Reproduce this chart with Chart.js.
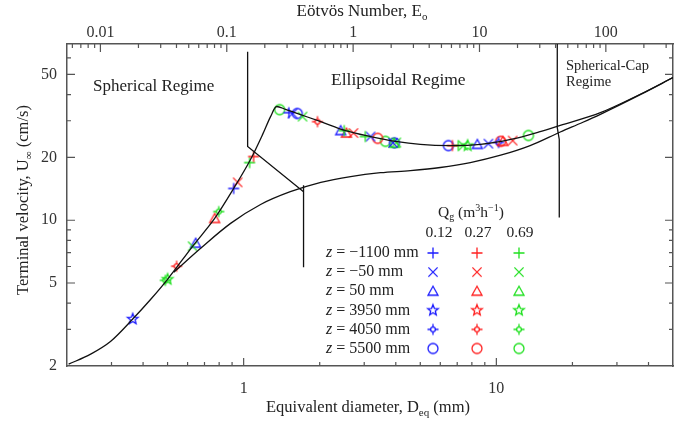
<!DOCTYPE html>
<html><head><meta charset="utf-8">
<script src="https://cdn.jsdelivr.net/npm/chart.js@4"></script>
<style>html,body{margin:0;padding:0;background:#fff}#wrap{width:694px;height:425px}</style>
</head><body><div id="wrap"><canvas id="c" width="694" height="425"></canvas></div>
<script>
const FONT = '"Liberation Serif", "Times New Roman", serif';

// ---- axes ----
const xTickLabels = [1, 10];
const topTickLabels = [0.01, 0.1, 1, 10, 100];
const yTickLabels = [2, 5, 10, 20, 50];
const xRange = [0.2, 50];
const yRange = [2, 70];
const eoPerMm2 = 0.136; // Eo = 0.136 * Deq^2 (Deq in mm)

// ---- legend categories ----
const zLabels = ['−1100 mm', '−50 mm', '50 mm', '3950 mm', '4050 mm', '5500 mm'];
const qLabels = ['0.12', '0.27', '0.69'];
const qColors = ['#1c1cff', '#ff2020', '#1fe01f'];
const zSymbols = ['plus', 'cross', 'triangle', 'star', 'sparkle', 'circle'];

// ---- measured points [Deq (mm), U (cm/s)] ----
const zM1100_q012 = [[0.913, 14.2], [1.51, 32.8]];
const zM1100_q027 = [[1.095, 20.2], [6.7, 22.8]];
const zM1100_q069 = [[1.056, 18.9], [2.5, 26.9], [3.03, 25.2], [7.07, 22.8]];
const zM50_q012 = [[1.56, 32.5], [3.18, 25.2], [3.9, 23.5], [9.3, 23.3]];
const zM50_q027 = [[0.947, 15.2], [2.72, 26.2], [11.6, 24.1]];
const zM50_q069 = [[0.628, 7.5], [1.71, 31.4], [4.02, 23.6], [7.4, 22.8]];
const zP50_q012 = [[0.646, 7.76], [2.42, 26.9], [8.41, 23.1]];
const zP50_q027 = [[0.768, 10.2], [2.55, 26.2], [10.6, 23.9]];
const zP50_q069 = [[3.95, 23.4]];
const zP3950_q012 = [[0.364, 3.36]];
const zP3950_q027 = [];
const zP3950_q069 = [[0.50, 5.21], [7.7, 22.8]];
const zP4050_q012 = [[10.2, 23.6]];
const zP4050_q027 = [[0.543, 6.02], [1.96, 29.7]];
const zP4050_q069 = [[0.797, 11.0], [0.49, 5.15]];
const zP5500_q012 = [[1.63, 32.5], [3.95, 23.5], [6.46, 22.8]];
const zP5500_q027 = [[3.39, 24.7], [10.4, 23.9]];
const zP5500_q069 = [[1.388, 33.9], [3.64, 23.9], [13.4, 25.5]];

const seriesData = [
  [zM1100_q012, zM1100_q027, zM1100_q069],
  [zM50_q012, zM50_q027, zM50_q069],
  [zP50_q012, zP50_q027, zP50_q069],
  [zP3950_q012, zP3950_q027, zP3950_q069],
  [zP4050_q012, zP4050_q027, zP4050_q069],
  [zP5500_q012, zP5500_q027, zP5500_q069]
];

// ---- correlation curves ----
const upperCurveD = [0.203, 0.248, 0.298, 0.364, 0.429, 0.50, 0.628, 0.768, 0.913, 1.066, 1.189, 1.278, 1.35, 1.466, 1.68, 2.02, 2.53, 3.18, 3.99, 5.0, 6.58, 8.65, 11.4, 14.9, 17.9, 25.8, 37.1, 50];
const upperCurveU = [2.04, 2.28, 2.63, 3.36, 4.18, 5.21, 7.5, 10.2, 14.2, 19.6, 25.8, 31.4, 35.1, 34.0, 32.1, 29.7, 26.9, 25.2, 23.9, 23.1, 22.8, 23.1, 24.4, 26.6, 28.5, 32.8, 40.2, 48.3];
const lowerCurveD = [0.529, 0.676, 0.888, 1.167, 1.53, 2.02, 2.65, 3.48, 4.57, 6.0, 7.89, 10.4, 13.6, 17.9, 22.0, 25.8, 37.1, 50];
const lowerCurveU = [5.63, 7.34, 9.66, 11.9, 13.7, 15.2, 16.2, 16.9, 17.3, 17.9, 18.9, 20.5, 22.8, 26.5, 29.5, 32.2, 40.0, 48.3];

// ---- regime boundaries ----
const leftBoundD = [1.037, 1.037, 1.726];
const leftBoundU = [64.3, 22.6, 13.7];
const leftVertD = [1.726, 1.726];
const leftVertU = [14.7, 5.95];
const rightBoundD = [17.42, 17.42, 17.74, 17.74];
const rightBoundU = [70, 27.8, 24.4, 10.3];

const eo = d => eoPerMm2 * d * d;
const zip = (a, b) => a.map((v, i) => ({x: v, y: b[i]}));

function makeSymbol(kind, color) {
  const s = 16, c = document.createElement('canvas');
  c.width = s; c.height = s;
  const g = c.getContext('2d');
  g.strokeStyle = color; g.lineWidth = 1.3; const m = s / 2;
  g.beginPath();
  if (kind === 'plus') {
    g.moveTo(m - 5.5, m); g.lineTo(m + 5.5, m); g.moveTo(m, m - 5.5); g.lineTo(m, m + 5.5);
  } else if (kind === 'cross') {
    const r = 4.6;
    g.moveTo(m - r, m - r); g.lineTo(m + r, m + r); g.moveTo(m + r, m - r); g.lineTo(m - r, m + r);
  } else if (kind === 'triangle') {
    g.moveTo(m, m - 5); g.lineTo(m + 5, m + 4); g.lineTo(m - 5, m + 4); g.closePath();
  } else if (kind === 'star') {
    for (let i = 0; i < 10; i++) {
      const r = i % 2 === 0 ? 5.6 : 2.4, a = -Math.PI / 2 + i * Math.PI / 5;
      const px = m + r * Math.cos(a), py = m + r * Math.sin(a);
      i === 0 ? g.moveTo(px, py) : g.lineTo(px, py);
    }
    g.closePath();
  } else if (kind === 'sparkle') {
    g.moveTo(m - 5.5, m); g.lineTo(m - 2, m); g.moveTo(m + 2, m); g.lineTo(m + 5.5, m);
    g.moveTo(m, m - 5.5); g.lineTo(m, m - 2); g.moveTo(m, m + 2); g.lineTo(m, m + 5.5);
    g.stroke(); g.beginPath(); g.arc(m, m, 2.4, 0, Math.PI * 2);
  } else if (kind === 'circle') {
    g.arc(m, m, 5, 0, Math.PI * 2);
  }
  g.stroke();
  return c;
}

const symbols = zSymbols.map(k => qColors.map(col => makeSymbol(k, col)));

const datasets = [];
const lineStyle = {showLine: true, borderColor: '#111', borderWidth: 1.3, pointRadius: 0, fill: false, xAxisID: 'x', yAxisID: 'y'};
datasets.push(Object.assign({label: 'upper', data: zip(upperCurveD, upperCurveU), cubicInterpolationMode: 'monotone'}, lineStyle));
datasets.push(Object.assign({label: 'lower', data: zip(lowerCurveD, lowerCurveU), cubicInterpolationMode: 'monotone'}, lineStyle));
datasets.push(Object.assign({label: 'b1', data: zip(leftBoundD, leftBoundU), tension: 0}, lineStyle));
datasets.push(Object.assign({label: 'b2', data: zip(leftVertD, leftVertU), tension: 0}, lineStyle));
datasets.push(Object.assign({label: 'b3', data: zip(rightBoundD, rightBoundU), tension: 0}, lineStyle));
seriesData.forEach((row, zi) => row.forEach((pts, qi) => {
  datasets.push({
    label: 'z = ' + zLabels[zi] + ', Qg = ' + qLabels[qi],
    data: pts.map(p => ({x: p[0], y: p[1]})),
    pointStyle: symbols[zi][qi], pointRadius: 6, showLine: false,
    xAxisID: 'x', yAxisID: 'y'
  });
}));

function drawRich(ctx, parts, x, y, size, align) {
  const base = size + 'px ' + FONT, small = Math.round(size * 0.65) + 'px ' + FONT;
  let w = 0;
  parts.forEach(p => { ctx.font = (p.italic ? 'italic ' : '') + ((p.sub || p.sup) ? small : base); w += ctx.measureText(p.t).width; });
  let cx = align === 'center' ? x - w / 2 : (align === 'right' ? x - w : x);
  ctx.textBaseline = 'middle'; ctx.textAlign = 'left';
  parts.forEach(p => {
    ctx.font = (p.italic ? 'italic ' : '') + ((p.sub || p.sup) ? small : base);
    const dy = p.sub ? size * 0.3 : (p.sup ? -size * 0.3 : 0);
    ctx.fillText(p.t, cx, y + dy);
    cx += ctx.measureText(p.t).width;
  });
}

const decor = {
  id: 'decor',
  afterDraw(chart) {
    const {ctx, chartArea: ca, scales} = chart;
    ctx.save();
    // inward ticks
    ctx.strokeStyle = '#555'; ctx.lineWidth = 1.2;
    const tickSet = (scale, isMajor, draw) => {
      const lo = Math.floor(Math.log10(scale.min)), hi = Math.ceil(Math.log10(scale.max));
      for (let k = lo; k <= hi; k++) for (let m = 1; m <= 9; m++) {
        const v = m * Math.pow(10, k);
        if (v < scale.min * 1.0001 || v > scale.max * 0.9999) continue;
        draw(scale.getPixelForValue(v), isMajor(v) ? 8 : 4);
      }
    };
    const near = (v, list) => list.some(t => Math.abs(v / t - 1) < 1e-6);
    ctx.beginPath();
    tickSet(scales.x, v => near(v, xTickLabels), (p, l) => { ctx.moveTo(p, ca.bottom); ctx.lineTo(p, ca.bottom - l); });
    tickSet(scales.xTop, v => near(v, topTickLabels), (p, l) => { ctx.moveTo(p, ca.top); ctx.lineTo(p, ca.top + l); });
    tickSet(scales.y, v => near(v, yTickLabels), (p, l) => { ctx.moveTo(ca.left, p); ctx.lineTo(ca.left + l, p); });
    tickSet(scales.y, v => near(v, yTickLabels), (p, l) => { ctx.moveTo(ca.right, p); ctx.lineTo(ca.right - l, p); });
    ctx.stroke();

    // axis titles
    ctx.fillStyle = '#222';
    drawRich(ctx, [{t: 'Eötvös Number, E'}, {t: 'o', sub: true}], 362, 12, 17, 'center');
    drawRich(ctx, [{t: 'Equivalent diameter, D'}, {t: 'eq', sub: true}, {t: ' (mm)'}], 368, 408, 16.5, 'center');
    ctx.save(); ctx.translate(24, 200); ctx.rotate(-Math.PI / 2);
    drawRich(ctx, [{t: 'Terminal velocity, U'}, {t: '∞', sub: true}, {t: ' (cm/s)'}], 0, 0, 16.5, 'center');
    ctx.restore();

    // regime labels
    drawRich(ctx, [{t: 'Spherical Regime'}], ca.left + 26, 87, 17, 'left');
    drawRich(ctx, [{t: 'Ellipsoidal Regime'}], ca.left + 264, 80, 17.5, 'left');
    drawRich(ctx, [{t: 'Spherical-Cap'}], ca.left + 499, 66, 14.5, 'left');
    drawRich(ctx, [{t: 'Regime'}], ca.left + 499, 82, 14.5, 'left');

    // legend
    const L = ca.left, T = ca.top;
    drawRich(ctx, [{t: 'Q'}, {t: 'g', sub: true}, {t: ' (m'}, {t: '3', sup: true}, {t: 'h'}, {t: '−1', sup: true}, {t: ')'}], L + 371, T + 169, 15.5, 'left');
    const colX = [L + 366, L + 410, L + 452];
    qLabels.forEach((q, i) => drawRich(ctx, [{t: q}], colX[i] + (i === 0 ? 6 : 1), T + 189, 15.5, 'center'));
    zLabels.forEach((z, r) => {
      const yy = T + 209 + r * 19.1;
      drawRich(ctx, [{t: 'z', italic: true}, {t: ' = ' + z}], L + 259, yy, 16, 'left');
      qColors.forEach((c, i) => ctx.drawImage(symbols[r][i], colX[i] - 8, yy - 8));
    });
    ctx.restore();
  }
};

const tickFont = {family: FONT, size: 16};
new Chart(document.getElementById('c'), {
  type: 'scatter',
  data: {datasets},
  options: {
    responsive: false, animation: false, devicePixelRatio: 1,
    layout: {padding: 0},
    plugins: {legend: {display: false}, tooltip: {enabled: false}},
    scales: {
      x: {type: 'logarithmic', position: 'bottom', min: xRange[0], max: xRange[1],
        afterBuildTicks: s => { s.ticks = xTickLabels.map(v => ({value: v})); },
        ticks: {autoSkip: false, maxRotation: 0, padding: 13, font: tickFont, color: '#333', callback: v => String(v)},
        grid: {display: false, drawTicks: false}, border: {display: true, color: '#555', width: 1.5},
        afterFit: s => { s.height = 59; }},
      xTop: {type: 'logarithmic', position: 'top', min: eo(xRange[0]), max: eo(xRange[1]),
        afterBuildTicks: s => { s.ticks = topTickLabels.map(v => ({value: v})); },
        ticks: {autoSkip: false, maxRotation: 0, padding: 2, font: tickFont, color: '#333', callback: v => String(v)},
        grid: {display: false, drawTicks: false}, border: {display: true, color: '#555', width: 1.5},
        afterFit: s => { s.height = 44; }},
      y: {type: 'logarithmic', position: 'left', min: yRange[0], max: yRange[1],
        afterBuildTicks: s => { s.ticks = yTickLabels.map(v => ({value: v})); },
        ticks: {autoSkip: false, padding: 10, font: tickFont, color: '#333', callback: v => String(v)},
        grid: {display: false, drawTicks: false}, border: {display: true, color: '#555', width: 1.5},
        afterFit: s => { s.width = 67; }},
      y2: {type: 'logarithmic', position: 'right', min: yRange[0], max: yRange[1],
        ticks: {display: false}, grid: {display: false, drawTicks: false},
        border: {display: true, color: '#555', width: 1.5},
        afterFit: s => { s.width = 21; }}
    }
  },
  plugins: [decor]
});
</script></body></html>
